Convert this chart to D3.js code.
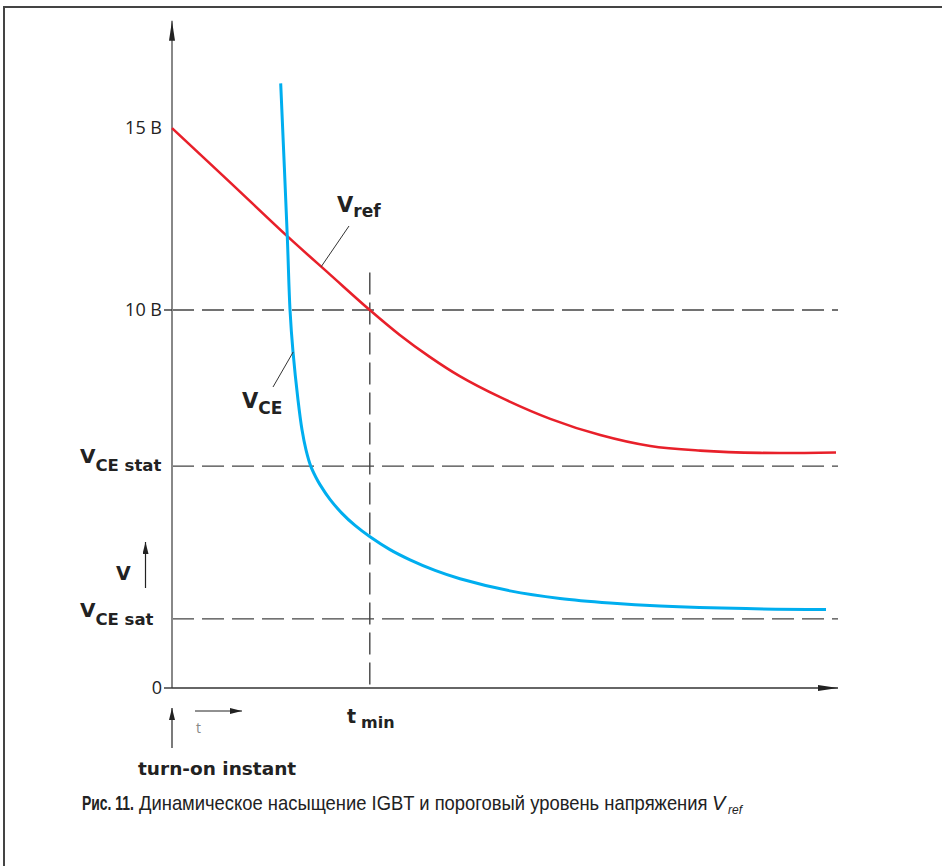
<!DOCTYPE html>
<html>
<head>
<meta charset="utf-8">
<script src="https://cdn.jsdelivr.net/npm/d3@7"></script>
<style>
  body { margin: 0; background: #fff; }
  svg { display: block; }
  .lbl { font-family: "Open Sans", "DejaVu Sans", sans-serif; fill: #222; }
  .bold { font-family: "DejaVu Sans", "Open Sans", sans-serif; font-weight: 700; fill: #222; }
  .cap { font-family: "Liberation Sans Narrow", "Liberation Sans", Arial, sans-serif; fill: #222; }
</style>
</head>
<body>
<svg id="chart" width="942" height="866"></svg>
<script>
// time axis is in arbitrary units, voltage in volts
const yTickValues = [0, 10, 15];
const yTickLabels = ['0', '10 B', '15 B'];
const levelValues = [10, 5.87, 1.83]; // 10 B, VCE stat, VCE sat
const tMin = 2.97;

const vrefCurve = [
  [0, 15], [0.86, 13.53], [1.73, 12.03], [2.37, 10.98], [2.97, 10],
  [3.42, 9.34], [3.87, 8.76], [4.32, 8.25], [4.92, 7.7], [5.68, 7.12],
  [6.43, 6.69], [7.18, 6.4], [7.93, 6.28], [8.83, 6.22], [9.97, 6.23]
];

const vceCurve = [
  [1.632, 16.23], [1.731, 12.02], [1.772, 10], [1.817, 8.89], [1.892, 7.62],
  [1.952, 6.83], [2.012, 6.3], [2.083, 5.87], [2.162, 5.57], [2.222, 5.38],
  [2.372, 4.99], [2.553, 4.62], [2.748, 4.3], [2.973, 4.0], [3.273, 3.66],
  [3.574, 3.39], [3.949, 3.11], [4.324, 2.89], [5.075, 2.57], [5.826, 2.37],
  [6.577, 2.25], [7.327, 2.17], [8.619, 2.1], [9.82, 2.08]
];

const svg = d3.select('#chart');

const x = d3.scaleLinear().domain([0, 10]).range([172, 838]);
// schematic axis: the part above 10 V is slightly compressed
const y = d3.scaleLinear().domain([0, 10, 18]).range([688, 310, 19]);

// frame
svg.append('path')
  .attr('d', 'M942,7H4V866')
  .attr('fill', 'none')
  .attr('stroke', '#444')
  .attr('stroke-width', 2);

// arrow markers
const defs = svg.append('defs');
defs.append('marker')
  .attr('id', 'arrY')
  .attr('viewBox', '0 0 20 6')
  .attr('refX', 20).attr('refY', 3)
  .attr('markerUnits', 'userSpaceOnUse')
  .attr('markerWidth', 20).attr('markerHeight', 6)
  .attr('orient', 'auto')
  .append('path').attr('d', 'M0,0L20,3L0,6Z').attr('fill', '#222');
defs.append('marker')
  .attr('id', 'arrS')
  .attr('viewBox', '0 0 12 6')
  .attr('refX', 12).attr('refY', 3)
  .attr('markerUnits', 'userSpaceOnUse')
  .attr('markerWidth', 12).attr('markerHeight', 6)
  .attr('orient', 'auto')
  .append('path').attr('d', 'M0,0L12,3L0,6Z').attr('fill', '#222');

// dashed level lines
svg.selectAll('.level')
  .data(levelValues)
  .join('line')
  .attr('x1', x(0)).attr('x2', x(10))
  .attr('y1', d => y(d)).attr('y2', d => y(d))
  .attr('stroke', '#444')
  .attr('stroke-width', 1.4)
  .attr('stroke-dasharray', '22,8');

// t_min vertical
svg.append('line')
  .attr('x1', x(tMin)).attr('x2', x(tMin))
  .attr('y1', y(11.03)).attr('y2', y(0))
  .attr('stroke', '#444')
  .attr('stroke-width', 1.4)
  .attr('stroke-dasharray', '22,8');

// y axis
svg.append('line')
  .attr('x1', x(0)).attr('x2', x(0))
  .attr('y1', y(0)).attr('y2', y(17.95))
  .attr('stroke', '#888')
  .attr('stroke-width', 2)
  .attr('marker-end', 'url(#arrY)');

// x axis
svg.append('line')
  .attr('x1', x(0)).attr('x2', x(10))
  .attr('y1', y(0)).attr('y2', y(0))
  .attr('stroke', '#333')
  .attr('stroke-width', 1.5)
  .attr('marker-end', 'url(#arrY)');

// ticks at 0 and 10
svg.selectAll('.tick')
  .data([0, 10])
  .join('line')
  .attr('x1', x(0) - 8).attr('x2', x(0))
  .attr('y1', d => y(d)).attr('y2', d => y(d))
  .attr('stroke', '#333')
  .attr('stroke-width', 1.4);

svg.selectAll('.ytl')
  .data(yTickValues)
  .join('text')
  .attr('class', 'lbl')
  .attr('x', x(0) - 10)
  .attr('y', d => y(d) + 6)
  .attr('text-anchor', 'end')
  .style('font-size', '18px')
  .text((d, i) => yTickLabels[i]);

// curves
const line = d3.line()
  .x(d => x(d[0]))
  .y(d => y(d[1]))
  .curve(d3.curveCatmullRom.alpha(0.5));

svg.append('path')
  .datum(vrefCurve)
  .attr('fill', 'none')
  .attr('stroke', '#e8202a')
  .attr('stroke-width', 2.6)
  .attr('d', line);

svg.append('path')
  .datum(vceCurve)
  .attr('fill', 'none')
  .attr('stroke', '#00aeef')
  .attr('stroke-width', 3)
  .attr('d', line);

// labels with subscripts
function subLabel(px, py, main, sub, mainSize, subSize, dy, dx = 0) {
  const t = svg.append('text')
    .attr('class', 'bold')
    .attr('x', px).attr('y', py);
  t.append('tspan').style('font-size', mainSize + 'px').text(main);
  t.append('tspan').attr('dx', dx).attr('dy', dy).style('font-size', subSize + 'px').text(sub);
  return t;
}

subLabel(80, y(levelValues[1]) - 3, 'V', 'CE stat', 20, 16.5, 8);
subLabel(80, y(levelValues[2]) - 2, 'V', 'CE sat', 20, 16.5, 8);
subLabel(337, 212, 'V', 'ref', 21, 17, 5);
subLabel(242, 408, 'V', 'CE', 21, 17, 6);
subLabel(347, 723, 't', 'min', 19, 16, 5, 5);

// leaders
svg.append('line')
  .attr('x1', 349).attr('y1', 226)
  .attr('x2', x(2.24)).attr('y2', y(11.19))
  .attr('stroke', '#333').attr('stroke-width', 1);
svg.append('line')
  .attr('x1', 273).attr('y1', 387)
  .attr('x2', x(1.82)).attr('y2', y(8.89))
  .attr('stroke', '#333').attr('stroke-width', 1);

// V with small arrow
svg.append('text')
  .attr('class', 'bold')
  .attr('x', 116).attr('y', 580)
  .style('font-size', '19px')
  .text('V');
svg.append('line')
  .attr('x1', 145.5).attr('x2', 145.5)
  .attr('y1', 588).attr('y2', 542)
  .attr('stroke', '#222').attr('stroke-width', 1.2)
  .attr('marker-end', 'url(#arrS)');

// turn-on instant marker
svg.append('line')
  .attr('x1', x(0)).attr('x2', x(0))
  .attr('y1', 748).attr('y2', 708)
  .attr('stroke', '#222').attr('stroke-width', 1.2)
  .attr('marker-end', 'url(#arrS)');
svg.append('line')
  .attr('x1', 195).attr('x2', 242)
  .attr('y1', 711).attr('y2', 711)
  .attr('stroke', '#222').attr('stroke-width', 1)
  .attr('marker-end', 'url(#arrS)');
svg.append('text')
  .attr('class', 'lbl')
  .attr('x', 196).attr('y', 733)
  .style('font-size', '14px')
  .style('fill', '#888')
  .text('t');
svg.append('text')
  .attr('class', 'bold')
  .attr('x', 138).attr('y', 775)
  .style('font-size', '18.5px')
  .text('turn-on instant');

// caption, squeezed to the reference widths
function capText(px, py, str, width, bold) {
  const t = svg.append('text')
    .attr('class', 'cap')
    .style('font-size', '20px')
    .style('font-weight', bold ? 700 : 400)
    .text(str);
  const w = t.node().getComputedTextLength();
  t.attr('transform', `translate(${px},${py}) scale(${width / w},1)`);
}
capText(82, 810, 'Рис. 11.', 52, true);
capText(139, 810, 'Динамическое насыщение IGBT и пороговый уровень напряжения', 569, false);

svg.append('text')
  .attr('class', 'cap')
  .attr('x', 712).attr('y', 810)
  .style('font-size', '20px')
  .style('font-style', 'italic')
  .text('V');
svg.append('text')
  .attr('class', 'cap')
  .attr('x', 728).attr('y', 814)
  .style('font-size', '12px')
  .style('font-style', 'italic')
  .text('ref');
</script>
</body>
</html>
